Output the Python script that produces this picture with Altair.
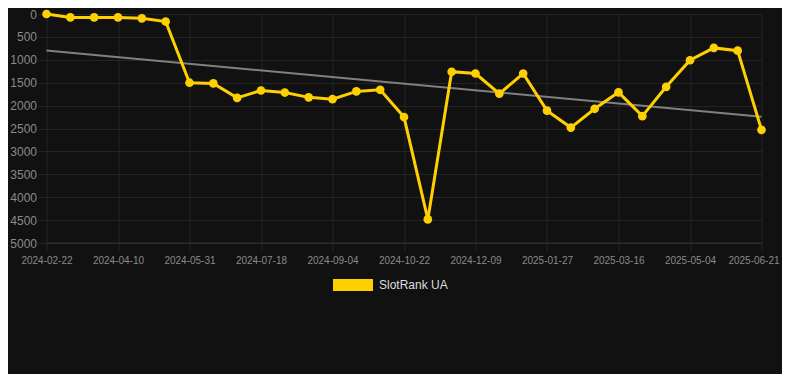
import json
import altair as alt
import pandas as pd

dates = [
    "2024-02-22", "2024-03-09", "2024-03-25", "2024-04-10", "2024-04-27", "2024-05-14",
    "2024-05-31", "2024-06-16", "2024-07-02", "2024-07-18", "2024-08-03", "2024-08-19",
    "2024-09-04", "2024-09-20", "2024-10-06", "2024-10-22", "2024-11-07", "2024-11-23",
    "2024-12-09", "2024-12-25", "2025-01-10", "2025-01-27", "2025-02-12", "2025-02-28",
    "2025-03-16", "2025-04-01", "2025-04-18", "2025-05-04", "2025-05-20", "2025-06-05",
    "2025-06-21",
]
ranks = [
    0, 75, 75, 75, 95, 165,
    1500, 1515, 1830, 1670, 1715, 1820,
    1860, 1690, 1655, 2250, 4485, 1260,
    1300, 1740, 1300, 2110, 2480, 2070,
    1710, 2230, 1590, 1010, 740, 800,
    2530,
]
trend_values = [798, 2245]
series_name = "SlotRank UA"
y_ticks = [0, 500, 1000, 1500, 2000, 2500, 3000, 3500, 4000, 4500, 5000]

idx = list(range(len(dates)))
last = len(dates) - 1
df = pd.DataFrame({"idx": idx, "date": dates, "rank": ranks, "series": series_name})
trend_df = pd.DataFrame({"idx": [0, last], "rank": trend_values})

GRID = "#242424"
LABEL = "#8a8a8a"
YELLOW = "#FFD000"

label_expr = json.dumps(dates) + "[datum.value]"
x_axis = alt.Axis(
    values=list(range(0, len(dates), 3)),
    labelExpr=label_expr,
    labelOverlap=False,
    labelFlush=False,
    labelBound=False,
    labelOffset={"condition": {"test": f"datum.value == {last}", "value": -8}, "value": 0},
    title=None,
    grid=True,
    gridColor=GRID,
    tickColor=GRID,
    tickSize=8,
    domain=False,
    labelColor=LABEL,
    labelFontSize=10,
    labelFont="Liberation Sans",
    labelPadding=4,
)
y_axis = alt.Axis(
    values=y_ticks,
    format="d",
    labelOverlap=False,
    labelFlush=False,
    title=None,
    grid=True,
    gridColor=GRID,
    tickColor=GRID,
    tickSize=8,
    domain=False,
    labelColor=LABEL,
    labelFontSize=12,
    labelFont="Liberation Sans",
    labelPadding=2,
)
x_scale = alt.Scale(domain=[0, last], nice=False, zero=False)
y_scale = alt.Scale(domain=[0, 5000], reverse=True, nice=False, zero=False)


def xe():
    return alt.X("idx:Q", scale=x_scale, axis=x_axis)


def ye():
    return alt.Y("rank:Q", scale=y_scale, axis=y_axis)


color_scale = alt.Scale(domain=[series_name], range=[YELLOW])
rect_path = "M-1,-0.3L1,-0.3L1,0.3L-1,0.3Z"

base_line = alt.Chart(df).mark_line(strokeWidth=3, color=YELLOW).encode(
    x=xe(), y=ye(),
)
points = alt.Chart(df).mark_circle(size=75, opacity=1).encode(
    x=xe(), y=ye(),
    color=alt.Color(
        "series:N", scale=color_scale,
        legend=alt.Legend(
            title=None, orient="none", legendX=286.5, legendY=251,
            symbolType=rect_path, symbolSize=1600, symbolStrokeWidth=0,
            symbolOpacity=1,
            labelColor="#dddddd", labelFontSize=12, labelFont="Liberation Sans",
            labelOffset=6,
        ),
    ),
)
trend = alt.Chart(trend_df).mark_line(strokeWidth=2, color="#808080").encode(
    x=xe(), y=ye()
)
bottom_rule = alt.Chart(pd.DataFrame({"rank": [5000]})).mark_rule(color="#333333", strokeWidth=1).encode(
    y=ye()
)

chart = alt.layer(bottom_rule, trend, base_line, points).properties(
    width=715,
    height=229,
    background="#111111",
    padding={"left": 38.5, "top": 6, "right": 20.5, "bottom": 131},
    autosize=alt.AutoSizeParams(type="none"),
).configure_view(stroke=None)

chart.save("out.html", embed_options={"renderer": "svg", "actions": False})
